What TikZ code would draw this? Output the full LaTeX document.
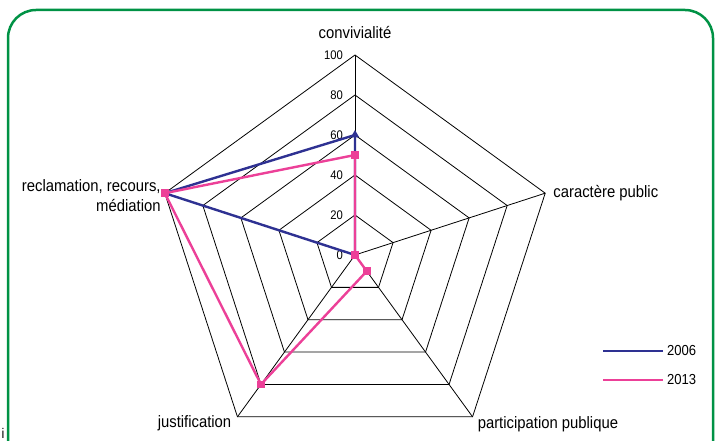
\documentclass[tikz,border=0pt]{standalone}
\usepackage{fontspec}
\setmainfont{Liberation Sans}[FakeStretch=0.9]
\usetikzlibrary{positioning,shapes.geometric}

\definecolor{bleu}{RGB}{46,49,146}
\definecolor{rose}{RGB}{236,64,152}
\definecolor{vert}{RGB}{0,146,69}

\begin{document}
\begin{tikzpicture}[x=1pt,y=1pt,
		gridline/.style={black,line width=0.8pt},
		ticklabel/.style={font=\fontsize{12.5}{14}\selectfont,anchor=east,inner sep=0pt},
		axislabel/.style={font=\fontsize{16.5}{20}\selectfont,inner sep=0pt},
		serie/.style={line width=2.4pt,line join=round},
		pinkmark/.style={fill=rose,rectangle,minimum size=7.5pt,inner sep=0pt},
		bluemark/.style={fill=bleu,regular polygon,regular polygon sides=3,minimum size=10pt,inner sep=0pt},
		legendline/.style={line width=2pt},
		legendtext/.style={font=\fontsize{14.5}{16}\selectfont,inner sep=0pt}]
	\useasboundingbox (0,0) rectangle (715,441);
	% cadre
	\begin{scope}
		\clip (0,0) rectangle (715,441);
		\draw[vert,line width=2.5pt,rounded corners=28pt] (8,-30) rectangle (713,431);
	\end{scope}
	\node[font=\fontsize{14}{15}\selectfont,inner sep=0pt] (stray) at (3,8) {i};
	
	\begin{scope}[shift={(355,186)}]
		\coordinate (c) at (0,0);
		\coordinate (conv) at (90:200);
		\coordinate (carac) at (18:200);
		\coordinate (parti) at (-54:200);
		\coordinate (justi) at (-126:200);
		\coordinate (recla) at (162:200);
		
		% toile
		\foreach \r in {40,80,...,200}
			\draw[gridline] (90:\r) -- (18:\r) -- (-54:\r) -- (-126:\r) -- (162:\r) -- cycle;
		\foreach \name in {conv,carac,parti,justi,recla}
			\draw[gridline] (c) -- (\name);
		\foreach \v in {0,20,...,100}
			\node[ticklabel] (tick\v) at (-12,2*\v) {\v};
		
		% 2006
		\coordinate (a1) at (90:120);
		\coordinate (a2) at (18:0);
		\coordinate (a3) at (-54:0);
		\coordinate (a4) at (-126:0);
		\coordinate (a5) at (162:200);
		% 2013
		\coordinate (b1) at (90:100);
		\coordinate (b2) at (18:0);
		\coordinate (b3) at (-54:20);
		\coordinate (b4) at (-126:160);
		\coordinate (b5) at (162:200);
		
		\draw[serie,bleu] (a1) -- (a2) -- (a3) -- (a4) -- (a5) -- cycle;
		\node[bluemark] (ma1) at (a1) {};
		\draw[serie,rose] (b1) -- (b2) -- (b3) -- (b4) -- (b5) -- cycle;
		\foreach \i in {1,...,5}
			\node[pinkmark] (mb\i) at (b\i) {};
	\end{scope}
	
	% libelles
	\node[axislabel, above=16pt of conv] (lconv) {convivialité};
	\node[axislabel, right=8pt of carac] (lcarac) {caractère public};
	\node[axislabel, anchor=north west] (lparti) at ([xshift=5pt]parti) {participation publique};
	\node[axislabel, anchor=north east] (ljusti) at ([xshift=-6pt,yshift=1pt]justi) {justification};
	\node[axislabel, anchor=north east, align=right] (lrecla) at ([xshift=-4pt,yshift=14pt]recla) {reclamation, recours,\\médiation};
	
	% legende
	\coordinate (l1a) at (603,90);
	\coordinate (l1b) at (663,90);
	\coordinate (l2a) at (603,61);
	\coordinate (l2b) at (663,61);
	\draw[legendline,bleu] (l1a) -- (l1b);
	\draw[legendline,rose] (l2a) -- (l2b);
	\node[legendtext, right=4pt of l1b] (t2006) {2006};
	\node[legendtext, right=4pt of l2b] (t2013) {2013};
\end{tikzpicture}
\end{document}
